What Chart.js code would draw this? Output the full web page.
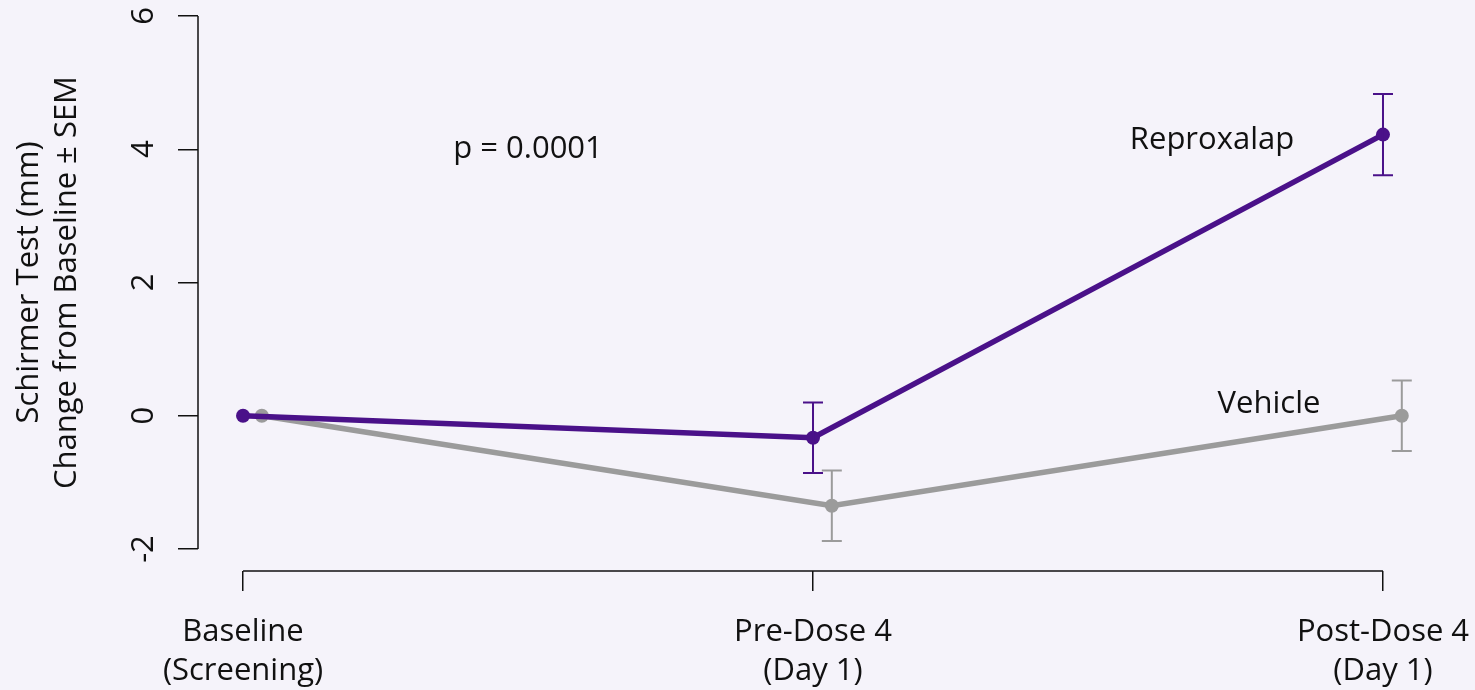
<!DOCTYPE html>
<html>
<head>
<meta charset="utf-8">
<script src="https://cdn.jsdelivr.net/npm/chart.js@4"></script>
<style>
  html, body { margin: 0; padding: 0; background: #f5f3fa; }
  #wrap { width: 1475px; height: 690px; }
</style>
</head>
<body>
<div id="wrap"><canvas id="c" width="1475" height="690"></canvas></div>
<script>
// Visits on the x axis
const timepoints = [['Baseline', '(Screening)'], ['Pre-Dose 4', '(Day 1)'], ['Post-Dose 4', '(Day 1)']];
const timepointIndex = [0, 1, 2];

// Schirmer test change from baseline (mm), mean and SEM
const reproxalapMean = [0, -0.33, 4.22];
const reproxalapSem  = [0, 0.53, 0.61];
const vehicleMean    = [0, -1.35, 0.0];
const vehicleSem     = [0, 0.53, 0.53];

// Y axis ticks
const yTicks = [-2, 0, 2, 4, 6];

// Text placed in data coordinates
const notes = [
  { text: 'p = 0.0001', x: 0.5, y: 4.0 },
  { text: 'Reproxalap', x: 1.7, y: 4.13 },
  { text: 'Vehicle',    x: 1.8, y: 0.17 }
];

const PURPLE = '#4a1189';
const GRAY = '#9b9b9b';
const INK = '#111111';
const FONT = { family: '"Open Sans", "Noto Sans", sans-serif', size: 31 };
const DODGE = 0.033;   // small horizontal shift so the two series do not overlap

const errorBars = {
  id: 'errorBars',
  afterDatasetsDraw(chart) {
    const { ctx, scales: { x, y } } = chart;
    ctx.save();
    chart.data.datasets.forEach(ds => {
      ctx.strokeStyle = ds.borderColor;
      ctx.lineWidth = 2;
      ds.data.forEach((p, i) => {
        const s = ds.sem[i];
        if (!s) return;
        const px = x.getPixelForValue(p.x);
        const top = y.getPixelForValue(p.y + s);
        const bot = y.getPixelForValue(p.y - s);
        ctx.beginPath();
        ctx.moveTo(px, top); ctx.lineTo(px, bot);
        ctx.moveTo(px - 10, top); ctx.lineTo(px + 10, top);
        ctx.moveTo(px - 10, bot); ctx.lineTo(px + 10, bot);
        ctx.stroke();
      });
    });
    ctx.restore();
  }
};

const axesAndText = {
  id: 'axesAndText',
  afterDraw(chart) {
    const { ctx, scales: { x, y } } = chart;
    ctx.save();
    // axis lines spanning first to last tick
    ctx.strokeStyle = INK;
    ctx.lineWidth = 1.5;
    ctx.beginPath();
    const yl = y.right;
    ctx.moveTo(yl, y.getPixelForValue(yTicks[0]));
    ctx.lineTo(yl, y.getPixelForValue(yTicks[yTicks.length - 1]));
    const xb = x.top;
    ctx.moveTo(x.getPixelForValue(timepointIndex[0]), xb);
    ctx.lineTo(x.getPixelForValue(timepointIndex[timepointIndex.length - 1]), xb);
    ctx.stroke();

    // annotations
    ctx.fillStyle = INK;
    ctx.font = `${FONT.size}px ${FONT.family}`;
    ctx.textAlign = 'center';
    ctx.textBaseline = 'middle';
    notes.forEach(n => {
      ctx.fillText(n.text, x.getPixelForValue(n.x), y.getPixelForValue(n.y));
    });

    // y axis title (two lines, rotated)
    const cy = (y.getPixelForValue(yTicks[0]) + y.getPixelForValue(yTicks[yTicks.length - 1])) / 2;
    ctx.textBaseline = 'alphabetic';
    [['Schirmer Test (mm)', 38], ['Change from Baseline \u00b1 SEM', 76]].forEach(([t, bx]) => {
      ctx.save();
      ctx.translate(bx, cy);
      ctx.rotate(-Math.PI / 2);
      ctx.fillText(t, 0, 0);
      ctx.restore();
    });
    ctx.restore();
  }
};

const lineStyle = (color) => ({
  borderColor: color,
  backgroundColor: color,
  borderWidth: 5.5,
  pointRadius: 7,
  pointBorderWidth: 0,
  pointHoverRadius: 7,
  tension: 0,
  fill: false
});

new Chart(document.getElementById('c'), {
  type: 'line',
  data: {
    datasets: [
      Object.assign({ label: 'Reproxalap', sem: reproxalapSem,
        data: reproxalapMean.map((v, i) => ({ x: timepointIndex[i], y: v })) }, lineStyle(PURPLE)),
      Object.assign({ label: 'Vehicle', sem: vehicleSem,
        data: vehicleMean.map((v, i) => ({ x: timepointIndex[i] + DODGE, y: v })) }, lineStyle(GRAY))
    ]
  },
  options: {
    responsive: false,
    animation: false,
    devicePixelRatio: 1,
    layout: { padding: { top: 16, right: 17, left: 0, bottom: 0 } },
    plugins: { legend: { display: false }, tooltip: { enabled: false } },
    scales: {
      x: {
        type: 'linear',
        min: -0.079,
        max: 2.1316,
        afterBuildTicks: s => { s.ticks = timepointIndex.map(v => ({ value: v })); },
        afterFit: s => { s.height = 119; s.paddingLeft = 0; s.paddingRight = 0; },
        border: { display: false },
        grid: { drawOnChartArea: false, drawTicks: true, tickLength: 20, color: INK, lineWidth: 1.5 },
        ticks: {
          callback: v => timepoints[Math.round(v)],
          font: Object.assign({ lineHeight: 1.28 }, FONT),
          color: INK,
          padding: 21,
          minRotation: 0,
          maxRotation: 0,
          autoSkip: false
        }
      },
      y: {
        min: -2.33,
        max: 6,
        afterBuildTicks: s => { s.ticks = yTicks.map(v => ({ value: v })); },
        afterFit: s => { s.width = 198; s.paddingTop = 0; s.paddingBottom = 0; },
        border: { display: false },
        grid: { drawOnChartArea: false, drawTicks: true, tickLength: 20, color: INK, lineWidth: 1.5 },
        ticks: {
          font: FONT,
          color: INK,
          padding: 20,
          minRotation: 90,
          maxRotation: 90,
          crossAlign: 'center'
        }
      }
    }
  },
  plugins: [errorBars, axesAndText]
});
</script>
</body>
</html>
